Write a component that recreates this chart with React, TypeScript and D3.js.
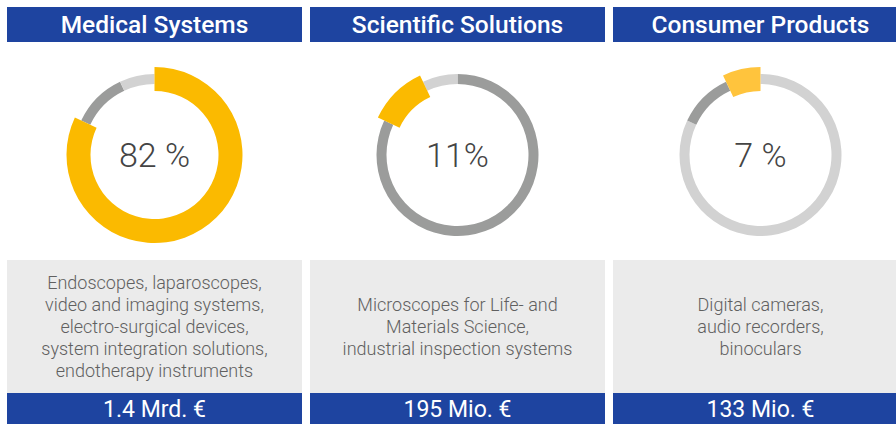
import * as d3 from "d3";

const categories = ["Medical Systems", "Scientific Solutions", "Consumer Products"];
const shares = [82, 11, 7];
const shareLabels = ["82 %", "11%", "7 %"];
const revenueLabels = ["1.4 Mrd. €", "195 Mio. €", "133 Mio. €"];
const descriptions = [
  [
    "Endoscopes, laparoscopes,",
    "video and imaging systems,",
    "electro-surgical devices,",
    "system integration solutions,",
    "endotherapy instruments",
  ],
  ["Microscopes for Life- and", "Materials Science,", "industrial inspection systems"],
  ["Digital cameras,", "audio recorders,", "binoculars"],
];
// ring colours per panel, in the order of the segments
const ringColors = [
  ["#fbba00", "#9b9c9b", "#d2d2d2"],
  ["#9b9c9b", "#fbba00", "#d2d2d2"],
  ["#d2d2d2", "#9b9c9b", "#ffc43d"],
];

const W = 896;
const H = 424;
const BLUE = "#1e44a0";
const FONT = "Roboto, 'Liberation Sans', Arial, sans-serif";

const App = () => {
  const x = d3
    .scaleBand<string>()
    .domain(categories)
    .range([7, 908])
    .paddingInner(8 / 303)
    .paddingOuter(0);

  const pie = d3
    .pie<number>()
    .value((d) => d)
    .sort(null)
    .startAngle(0)
    .endAngle(Math.PI * 2);

  const thin = d3.arc<d3.PieArcDatum<number>>().innerRadius(71).outerRadius(81);
  const thick = d3.arc<d3.PieArcDatum<number>>().innerRadius(64).outerRadius(88);

  const arcs = pie(shares);
  const cy = 155;
  const lineH = 22;

  return (
    <svg
      width={W}
      height={H}
      style={{ position: "absolute", left: 0, top: 0, background: "#fff" }}
    >
      {categories.map((cat, i) => {
        const x0 = x(cat) as number;
        const bw = x.bandwidth();
        const cx = x0 + bw / 2;
        const lines = descriptions[i];
        const firstBase = 333 - ((lines.length - 1) * lineH) / 2;
        return (
          <g key={cat}>
            {/* header */}
            <rect x={x0} y={7} width={bw} height={35} fill={BLUE} />
            <text
              x={cx}
              y={33}
              textAnchor="middle"
              fill="#fff"
              style={{ fontFamily: FONT, fontSize: 24.5, fontWeight: 500 }}
            >
              {cat}
            </text>

            {/* donut */}
            <g transform={`translate(${cx},${cy})`}>
              {arcs.map((a, j) =>
                j === i ? null : (
                  <path key={j} d={thin(a) as string} fill={ringColors[i][j]} />
                )
              )}
              {/* highlighted segment */}
              <path d={thick(arcs[i]) as string} fill={ringColors[i][i]} />
              <text
                y={12}
                textAnchor="middle"
                fill="#444"
                style={{ fontFamily: FONT, fontSize: 34, fontWeight: 300 }}
              >
                {shareLabels[i]}
              </text>
            </g>

            {/* description */}
            <rect x={x0} y={260} width={bw} height={133} fill="#ebebeb" />
            {lines.map((ln, k) => (
              <text
                key={k}
                x={cx}
                y={firstBase + k * lineH}
                textAnchor="middle"
                fill="#606060"
                style={{ fontFamily: FONT, fontSize: 18, fontWeight: 300 }}
              >
                {ln}
              </text>
            ))}

            {/* revenue */}
            <rect x={x0} y={393} width={bw} height={31} fill={BLUE} />
            <text
              x={cx}
              y={417}
              textAnchor="middle"
              fill="#fff"
              style={{ fontFamily: FONT, fontSize: 23, fontWeight: 400 }}
            >
              {revenueLabels[i]}
            </text>
          </g>
        );
      })}
    </svg>
  );
};

export default App;
